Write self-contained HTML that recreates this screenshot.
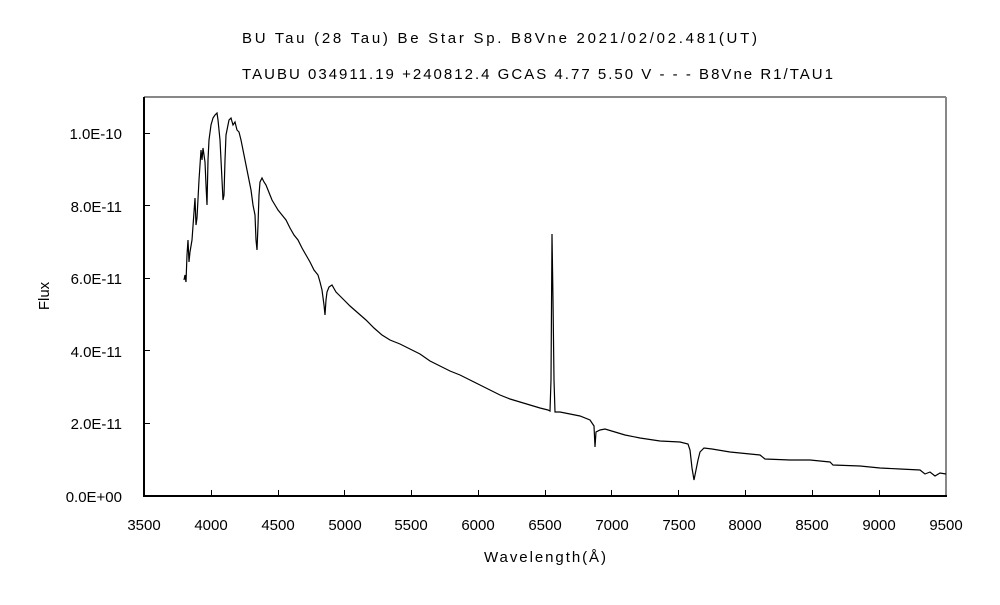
<!DOCTYPE html>
<html><head><meta charset="utf-8"><style>body{margin:0;background:#fff}</style></head><body>
<svg width="1000" height="600" xmlns="http://www.w3.org/2000/svg" font-family="Liberation Sans, Noto Sans CJK JP, sans-serif" font-size="15">
<rect width="1000" height="600" fill="#fff"/>
<text x="242" y="43" textLength="515" lengthAdjust="spacing">BU Tau (28 Tau)    Be Star    Sp. B8Vne    2021/02/02.481(UT)</text>
<text x="242" y="79" textLength="591" lengthAdjust="spacing">TAUBU 034911.19 +240812.4 GCAS 4.77 5.50 V - - - B8Vne R1/TAU1</text>
<line x1="144" y1="97" x2="946" y2="97" stroke="#888" stroke-width="2"/>
<line x1="946" y1="97" x2="946" y2="496" stroke="#888" stroke-width="2"/>
<line x1="144" y1="97" x2="144" y2="497" stroke="#000" stroke-width="2"/>
<line x1="143" y1="496" x2="947" y2="496" stroke="#000" stroke-width="2"/>
<g stroke="#000" stroke-width="1">
<line x1="144" y1="423.5" x2="150" y2="423.5"/><line x1="144" y1="350.5" x2="150" y2="350.5"/><line x1="144" y1="278.5" x2="150" y2="278.5"/><line x1="144" y1="205.5" x2="150" y2="205.5"/><line x1="144" y1="133.5" x2="150" y2="133.5"/>
<line x1="211.5" y1="496" x2="211.5" y2="490"/><line x1="278.5" y1="496" x2="278.5" y2="490"/><line x1="344.5" y1="496" x2="344.5" y2="490"/><line x1="411.5" y1="496" x2="411.5" y2="490"/><line x1="478.5" y1="496" x2="478.5" y2="490"/><line x1="545.5" y1="496" x2="545.5" y2="490"/><line x1="611.5" y1="496" x2="611.5" y2="490"/><line x1="678.5" y1="496" x2="678.5" y2="490"/><line x1="745.5" y1="496" x2="745.5" y2="490"/><line x1="812.5" y1="496" x2="812.5" y2="490"/><line x1="879.5" y1="496" x2="879.5" y2="490"/>
</g>
<g text-anchor="end">
<text x="122" y="502">0.0E+00</text><text x="122" y="429">2.0E-11</text><text x="122" y="357">4.0E-11</text><text x="122" y="284">6.0E-11</text><text x="122" y="212">8.0E-11</text><text x="122" y="139">1.0E-10</text>
</g>
<g text-anchor="middle">
<text x="144" y="530">3500</text><text x="211" y="530">4000</text><text x="278" y="530">4500</text><text x="345" y="530">5000</text><text x="411" y="530">5500</text><text x="478" y="530">6000</text><text x="545" y="530">6500</text><text x="612" y="530">7000</text><text x="679" y="530">7500</text><text x="745" y="530">8000</text><text x="812" y="530">8500</text><text x="879" y="530">9000</text><text x="946" y="530">9500</text>
<text x="545" y="562" textLength="122" lengthAdjust="spacing">Wavelength(Å)</text>
<text transform="translate(49,296) rotate(-90)">Flux</text>
</g>
<polyline fill="none" stroke="#000" stroke-width="1.2" points="184,280 185,275 186,282 187,255 188,240 189,262 190,252 192,240 194,212 195,198 196,225 197,218 199,180 200,165 201,150 202,160 203,148 204,155 205,162 206,185 207,205 208,160 209,140 211,125 213,118 215,115 217,113 218,120 220,140 221,160 222,180 223,200 224,195 225,160 226,135 228,125 229,120 231,118 233,125 235,122 237,130 239,132 241,140 243,150 245,160 247,170 249,180 251,190 253,205 255,215 256,240 257,250 258,225 259,195 260,182 262,178 264,182 266,185 268,190 270,195 272,200 275,205 278,210 282,215 286,220 290,228 294,235 298,240 302,248 306,255 310,262 314,270 318,275 320,282 322,290 324,305 325,315 326,300 327,292 329,287 332,285 336,292 340,296 344,300 350,306 358,313 366,320 374,328 382,335 390,340 400,344 410,349 420,354 430,361 440,366 450,371 460,375 470,380 480,385 490,390 500,395 510,399 520,402 530,405 540,408 548,410 550,411 551,380 552,234 553,300 554,380 555,412 560,412 570,414 580,416 590,420 594,426 595,447 596,432 600,430 605,429 615,432 625,435 640,438 660,441 680,442 688,444 690,450 692,468 694,480 696,470 698,460 700,452 704,448 712,449 730,452 760,455 765,459 790,460 810,460 830,462 833,465 860,466 880,468 900,469 920,470 925,474 930,472 935,476 940,473 946,474"/>
</svg>
</body></html>
